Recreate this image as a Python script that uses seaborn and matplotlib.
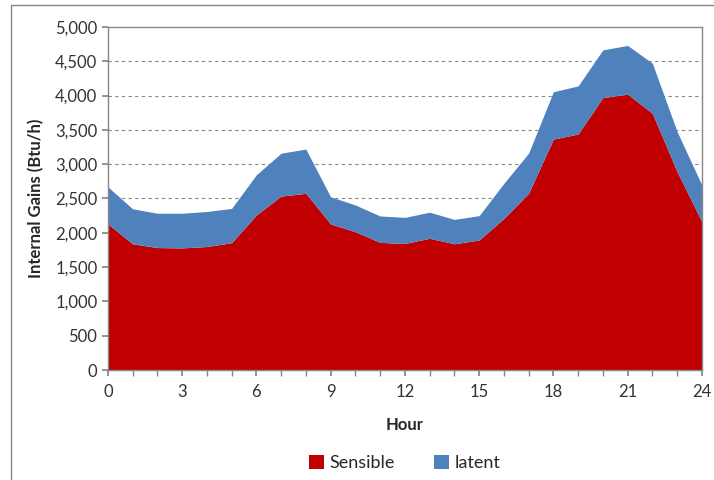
import numpy as np
import pandas as pd
import matplotlib
matplotlib.use("Agg")
import matplotlib.pyplot as plt
import seaborn as sns

hours = list(range(25))
sensible = [2130, 1840, 1785, 1780, 1800, 1855, 2260, 2535, 2575, 2130, 2015, 1860, 1845,
            1920, 1840, 1895, 2210, 2575, 3365, 3440, 3970, 4020, 3740, 2890, 2160]
total = [2670, 2350, 2285, 2285, 2310, 2355, 2845, 3160, 3220, 2525, 2405, 2245, 2225,
         2300, 2195, 2250, 2720, 3160, 4055, 4140, 4665, 4730, 4470, 3475, 2695]
latent = [t - s for t, s in zip(total, sensible)]

df = pd.DataFrame({"Hour": hours, "Sensible": sensible, "latent": latent})

sns.set_theme(style="white")
plt.rcParams["font.family"] = ["Lato", "DejaVu Sans"]

red = "#C00000"
blue = "#4F81BD"

fig = plt.figure(figsize=(7.14, 4.8), dpi=100)
ax = fig.add_axes([0.151, 0.229, 0.832, 0.715])

ax.stackplot(df["Hour"], df["Sensible"], df["latent"],
             colors=[red, blue], labels=["Sensible", "latent"], linewidth=0)

ax.set_xlim(0, 24)
ax.set_ylim(0, 5000)
ax.set_xticks(range(0, 25, 3))
ax.set_xticks(range(25), minor=True)
ax.set_yticks(range(0, 5001, 500))
ax.yaxis.set_major_formatter(matplotlib.ticker.FuncFormatter(lambda v, p: f"{int(v):,}"))
ax.tick_params(axis="both", which="both", direction="out", length=4, color="#868686",
               labelsize=12, colors="#333333", bottom=True, left=True)
ax.tick_params(axis="x", which="major", pad=6)
for v in range(500, 5000, 500):
    ax.axhline(v, color="#888888", linestyle=(0, (3, 3)), linewidth=0.8, zorder=0)
ax.set_axisbelow(True)

for side in ["left", "bottom", "top", "right"]:
    ax.spines[side].set_color("#868686")
    ax.spines[side].set_linewidth(1)

ax.set_xlabel("Hour", fontsize=12, fontweight="bold", labelpad=12)
ax.set_ylabel("Internal Gains (Btu/h)", fontsize=12, fontweight="bold", labelpad=8)

ax.legend(loc="upper center", bbox_to_anchor=(0.5, -0.2), ncol=2, frameon=False,
          fontsize=13, handlelength=0.8, handleheight=0.8, columnspacing=2.2,
          handletextpad=0.3)

# outer chart frame (left and top edges visible)
fig.add_artist(plt.Line2D([0.016, 0.016], [0.0, 0.99], transform=fig.transFigure,
                          color="#868686", linewidth=1))
fig.add_artist(plt.Line2D([0.016, 1.0], [0.99, 0.99], transform=fig.transFigure,
                          color="#868686", linewidth=1))

fig.savefig("out.png", dpi=100)
